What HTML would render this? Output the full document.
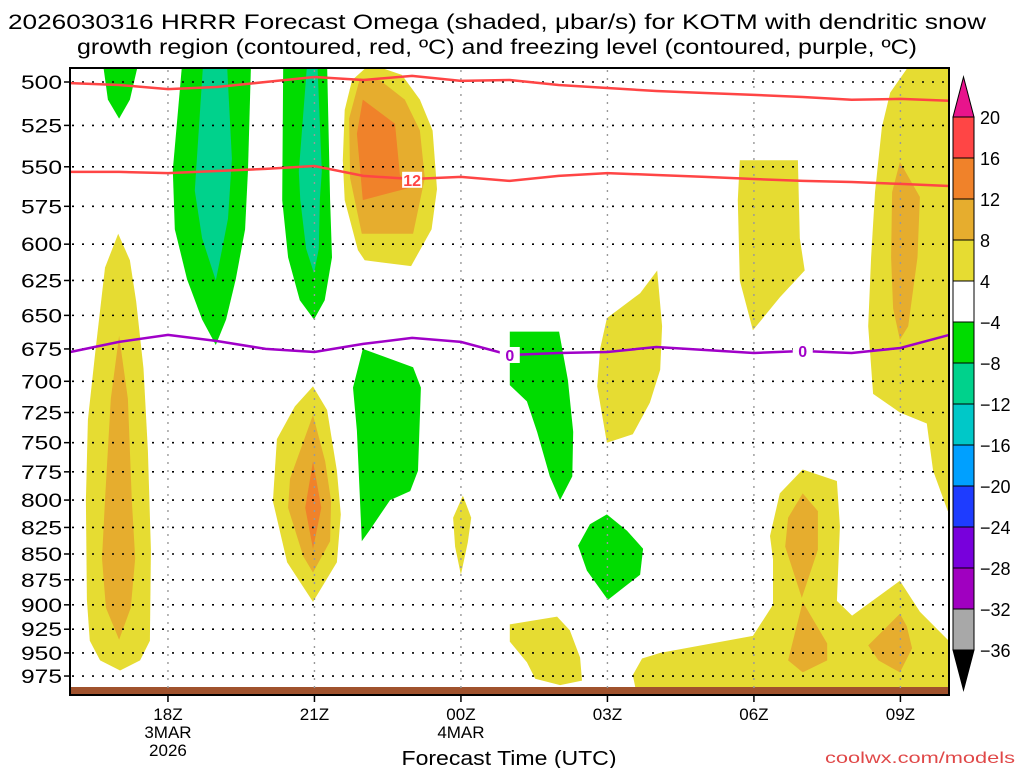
<!DOCTYPE html>
<html><head><meta charset="utf-8"><style>
html,body{margin:0;padding:0;background:#fff;width:1024px;height:768px;overflow:hidden}
svg{display:block}
text{font-family:"Liberation Sans",sans-serif}
</style></head><body>
<svg id="chart" width="1024" height="768" viewBox="0 0 1024 768">
<text x="497" y="29" font-size="21" text-anchor="middle" textLength="978" lengthAdjust="spacingAndGlyphs">2026030316 HRRR Forecast Omega (shaded, μbar/s) for KOTM with dendritic snow</text>
<text x="497" y="54" font-size="21" text-anchor="middle" textLength="840" lengthAdjust="spacingAndGlyphs">growth region (contoured, red, ºC) and freezing level (contoured, purple, ºC)</text>
<defs><clipPath id="plotclip"><rect x="70" y="68" width="879" height="627"/></clipPath></defs>
<g id="fills" clip-path="url(#plotclip)"></g>
<rect x="70" y="687" width="879" height="8" fill="#a0522d"/>
<g id="grid"></g>
<g id="lines" clip-path="url(#plotclip)"></g>
<rect x="70" y="68" width="879" height="627" fill="none" stroke="#000" stroke-width="2"/>
<g id="axes"></g>
<g id="cbar"></g>
<text x="509" y="765" font-size="20" text-anchor="middle" textLength="215" lengthAdjust="spacingAndGlyphs">Forecast Time (UTC)</text>
<text x="1015" y="763" font-size="16" text-anchor="end" fill="#e04848" textLength="190" lengthAdjust="spacingAndGlyphs">coolwx.com/models</text>
</svg>
<script>
// ---- axis data ----
const pressureTicks = [500,525,550,575,600,625,650,675,700,725,750,775,800,825,850,875,900,925,950,975];
const timeTickHours = [2,5,8,11,14,17];
const timeTickLabels = [["18Z","3MAR","2026"],["21Z"],["00Z","4MAR"],["03Z"],["06Z"],["09Z"]];
const cbarLevels = [20,16,12,8,4,-4,-8,-12,-16,-20,-24,-28,-32,-36];
const cbarColors = ["#ff4545","#f0822a","#e6ad2e","#e6dc32","#ffffff","#00dc00","#00d28c","#00c8c8","#00a0ff","#1e3cff","#7800dc","#a000c0","#a8a8a8"];
// ---- contour line data (hourly from 16Z) ----
const lineHours = [0,1,2,3,4,5,6,7,8,9,10,11,12,13,14,15,16,17,18];
const isoMinus18 = [500.6,501.7,504,502.8,500,497.2,498.9,496.6,499.4,498.9,501.7,503.4,505.1,506.2,507.3,508.5,510.1,509.6,510.7];
const isoMinus12 = [553.2,553.2,553.9,552.6,551.3,549.5,555.7,557.6,556.3,558.8,555.7,553.9,555.1,556.3,557.6,558.8,559.5,560.7,562.0];
const isoZero = [677.3,669.7,664.4,669.0,675.0,677.3,671.2,666.7,669.7,679.6,678.1,677.3,673.5,675.8,678.1,676.6,678.1,674.3,664.4];
// ---- shaded omega regions: [hour, pressure] outlines ----
const yellowA = [[0.98,593],[0.71,616],[0.51,678],[0.36,731],[0.32,800],[0.34,895],[0.40,937],[0.61,958],[1.02,969],[1.43,958],[1.63,937],[1.65,846],[1.59,757],[1.5,690],[1.35,640],[1.22,611]];
const orangeA = [[1.0,665],[0.83,714],[0.71,800],[0.65,854],[0.73,903],[1.0,936],[1.24,903],[1.33,854],[1.26,800],[1.18,714]];
const yellowB = [[5.77,499],[5.62,516],[5.58,546],[5.62,571],[5.89,604],[6.03,611],[6.98,615],[7.40,590],[7.51,564],[7.42,528],[7.16,510],[6.79,496],[6.14,490]];
const orangeB = [[5.71,521],[5.73,557],[5.97,593],[7.02,593],[7.26,557],[7.16,528],[6.85,510],[6.34,499],[5.93,498]];
const deepB = [[5.99,510],[6.65,524],[6.75,555],[6.96,563],[5.99,571],[5.87,530]];
const yellowC = [[4.97,704],[4.6,720],[4.23,747],[4.15,801],[4.44,858],[4.97,897],[5.46,858],[5.54,813],[5.46,774],[5.26,723]];
const orangeC = [[4.97,727],[4.50,781],[4.46,807],[4.77,852],[4.97,868],[5.32,838],[5.34,801],[5.22,766]];
const deepC = [[4.97,766],[4.81,807],[4.97,845],[5.14,807]];
const yellowSmall = [[8.04,796],[7.84,816],[7.88,843],[8.0,870],[8.14,839],[8.21,816]];
const yellowF = [[12.02,618],[11.67,634],[10.99,652],[10.85,675],[10.79,704],[10.99,750],[11.52,743],[11.87,717],[12.08,691],[12.12,658]];
const yellowH = [[9.0,920],[9.97,912],[10.23,926],[10.44,955],[10.48,980],[10.03,985],[9.52,978],[9.35,960],[9.0,938]];
const yellowI = [[13.71,546],[14.90,546],[14.94,596],[15.04,618],[14.53,637],[13.98,661],[13.71,625],[13.67,571]];
const yellowJ = [[17.2,490],[18.2,490],[18.2,812],[17.97,810],[17.67,774],[17.54,734],[16.99,725],[16.44,710],[16.34,658],[16.40,609],[16.48,566],[16.62,526],[16.79,506]];
const orangeJ = [[16.99,547],[16.83,566],[16.81,609],[16.85,645],[16.99,668],[17.16,658],[17.35,609],[17.40,569]];
const yellowK = [[11.52,974],[11.71,956],[12.08,950],[13.98,932],[14.39,900],[14.39,855],[14.33,833],[14.53,794],[15.0,773],[15.70,783],[15.76,824],[15.70,896],[16.01,911],[16.99,876],[17.40,907],[18.2,948],[18.2,995],[11.6,995]];
const orangeK1 = [[15.0,794],[14.70,816],[14.64,843],[14.98,893],[15.31,846],[15.31,810]];
const orangeK2 = [[15.0,897],[14.70,958],[15.0,971],[15.50,958],[15.50,940]];
const orangeK3 = [[16.99,909],[16.34,942],[16.55,958],[16.99,971],[17.24,945],[17.13,922]];
const greenTL = [[0.67,490],[1.39,490],[1.22,510],[1.0,521],[0.77,510]];
const green2 = [[2.29,490],[2.10,552],[2.14,590],[2.39,624],[2.70,653],[2.98,672],[3.19,653],[3.39,624],[3.58,590],[3.64,552],[3.70,490]];
const teal2 = [[2.72,490],[2.55,565],[2.70,596],[2.98,625],[3.11,603],[3.23,583],[3.31,545],[3.21,490]];
const green3 = [[4.36,490],[4.34,571],[4.46,609],[4.70,639],[4.99,653],[5.21,639],[5.36,609],[5.32,571],[5.26,490]];
const teal3 = [[4.85,490],[4.68,553],[4.71,571],[4.83,603],[4.99,620],[5.09,603],[5.11,571],[5.15,553],[5.06,490]];
const greenD = [[5.99,675],[5.79,705],[5.87,740],[5.97,838],[6.14,827],[6.55,800],[6.96,792],[7.12,774],[7.18,705],[7.02,689]];
const greenE = [[9.0,662],[10.01,662],[10.19,699],[10.30,741],[10.28,779],[10.03,800],[9.82,779],[9.56,741],[9.35,716],[9.0,703]];
const greenG = [[10.99,813],[10.64,822],[10.40,842],[10.58,866],[11.01,895],[11.67,870],[11.73,845],[11.40,828]];

const NS = "http://www.w3.org/2000/svg";
const X0 = 70.3, PXH = 48.83, Y0 = 82, LOGK = 889.5;
function xs(h){ return X0 + h*PXH; }
function ys(p){ return Y0 + LOGK*Math.log(p/500); }
function mk(tag, attrs, parent){
  const e = document.createElementNS(NS, tag);
  for (const k in attrs) e.setAttribute(k, attrs[k]);
  parent.appendChild(e); return e;
}
const fills = document.getElementById('fills');
const regions = [
  [yellowA,"#e6dc32","yellow-region-a"],[orangeA,"#e6ad2e","orange-region-a"],
  [yellowB,"#e6dc32","yellow-region-b"],[orangeB,"#e6ad2e","orange-region-b"],[deepB,"#f0822a","deep-orange-region-b"],
  [yellowC,"#e6dc32","yellow-region-c"],[orangeC,"#e6ad2e","orange-region-c"],[deepC,"#f0822a","deep-orange-region-c"],
  [yellowSmall,"#e6dc32","yellow-region-small"],[yellowF,"#e6dc32","yellow-region-f"],[yellowH,"#e6dc32","yellow-region-h"],
  [yellowI,"#e6dc32","yellow-region-i"],[yellowJ,"#e6dc32","yellow-region-j"],[orangeJ,"#e6ad2e","orange-region-j"],
  [yellowK,"#e6dc32","yellow-region-k"],[orangeK1,"#e6ad2e","orange-region-k1"],[orangeK2,"#e6ad2e","orange-region-k2"],[orangeK3,"#e6ad2e","orange-region-k3"],
  [greenTL,"#00dc00","green-region-top-left"],[green2,"#00dc00","green-region-2"],[teal2,"#00d28c","teal-region-2"],
  [green3,"#00dc00","green-region-3"],[teal3,"#00d28c","teal-region-3"],[greenD,"#00dc00","green-region-d"],
  [greenE,"#00dc00","green-region-e"],[greenG,"#00dc00","green-region-g"]
];
regions.forEach(r=>{
  const pts = r[0].map(d=>xs(d[0]).toFixed(1)+","+ys(d[1]).toFixed(1)).join(" ");
  const el = mk('polygon',{points:pts, fill:r[1]}, fills);
  
  
});
// grid
const grid = document.getElementById('grid');
pressureTicks.forEach(p=>{
  const el = mk('line',{x1:72,x2:947,y1:ys(p),y2:ys(p),stroke:"#000","stroke-width":1.6,"stroke-dasharray":"2 8"}, grid);
  
  
});
timeTickHours.forEach(h=>{
  const el = mk('line',{x1:xs(h),x2:xs(h),y1:70,y2:693,stroke:"#999","stroke-width":1.4,"stroke-dasharray":"2 6"}, grid);
  
  
});
// contour lines
const lines = document.getElementById('lines');
function drawLine(vals, color, name){
  const d = vals.map((p,i)=>(i?"L":"M")+xs(lineHours[i]).toFixed(1)+","+ys(p).toFixed(1)).join(" ");
  const el = mk('path',{d:d, fill:"none", stroke:color, "stroke-width":2.5}, lines);
  
  
}
drawLine(isoMinus18, "#ff4545", "isotherm-minus-18-line");
drawLine(isoMinus12, "#ff4545", "isotherm-minus-12-line");
drawLine(isoZero, "#a000c8", "freezing-level-line");
function label(txt, h, p, color, name){
  const x = xs(h), y = ys(p);
  const bg = mk('rect',{x:x-10,y:y-8,width:20,height:16,fill:"#fff"}, lines);
  
  
  const t = mk('text',{x:x,y:y+6,"font-size":16,"font-weight":"bold","text-anchor":"middle",fill:color}, lines);
  t.textContent = txt;
  
  
}
label("12", 7.0, isoMinus12[7]+0.5, "#ff4545", "isotherm-label-12");
label("0", 9.0, isoZero[9], "#a000c8", "freezing-label-1");
label("0", 15.0, isoZero[15], "#a000c8", "freezing-label-2");
// axes labels
const axes = document.getElementById('axes');
pressureTicks.forEach(p=>{
  const t = mk('text',{x:62,y:ys(p)+7,"font-size":19,"text-anchor":"end",textLength:41,lengthAdjust:"spacingAndGlyphs"}, axes);
  t.textContent = p;
  
  
  const tk = mk('line',{x1:64,x2:70,y1:ys(p),y2:ys(p),stroke:"#000","stroke-width":1.5}, axes);
  
  
});
timeTickHours.forEach((h,i)=>{
  const tk = mk('line',{x1:xs(h),x2:xs(h),y1:695,y2:702,stroke:"#000","stroke-width":1.5}, axes);
  
  
  timeTickLabels[i].forEach((s,j)=>{
    const t = mk('text',{x:xs(h),y:720+j*18,"font-size":17,"text-anchor":"middle"}, axes);
    t.textContent = s;
    
    
  });
});
// colorbar
const cbar = document.getElementById('cbar');
const CBX = 953, CBW = 21, CBTOP = 117, CBSTEP = 41;
function cy(i){ return CBTOP + i*CBSTEP; }
const topTri = mk('polygon',{points:`${CBX},${cy(0)} ${CBX+CBW},${cy(0)} ${CBX+CBW/2},${cy(0)-40}`, fill:"#e8148c", stroke:"#000","stroke-width":1}, cbar);


cbarColors.forEach((c,i)=>{
  const r = mk('rect',{x:CBX,y:cy(i),width:CBW,height:CBSTEP,fill:c,stroke:"#000","stroke-width":1}, cbar);
  
  
});
const n = cbarLevels.length-1;
const botTri = mk('polygon',{points:`${CBX},${cy(n)} ${CBX+CBW},${cy(n)} ${CBX+CBW/2},${cy(n)+40}`, fill:"#000", stroke:"#000","stroke-width":1}, cbar);


cbarLevels.forEach((v,i)=>{
  const t = mk('text',{x:980,y:cy(i)+7,"font-size":18}, cbar);
  t.textContent = v<0 ? "\u2212"+Math.abs(v) : String(v);
  
  
});
</script>
</body></html>
